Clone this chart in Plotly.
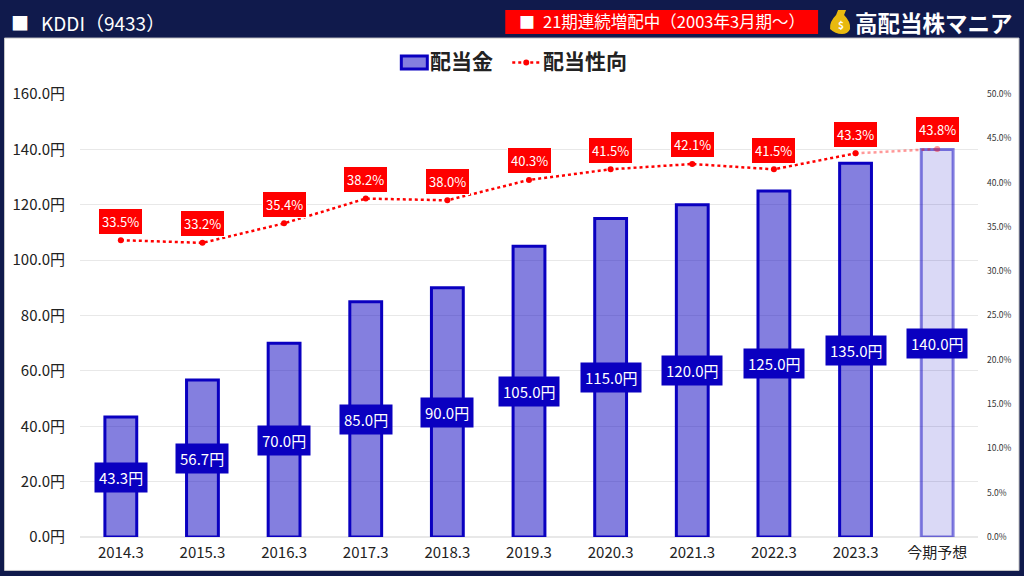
import plotly.graph_objects as go

periods = ["2014.3", "2015.3", "2016.3", "2017.3", "2018.3", "2019.3", "2020.3", "2021.3", "2022.3", "2023.3", "今期予想"]
dividend = [43.3, 56.7, 70.0, 85.0, 90.0, 105.0, 115.0, 120.0, 125.0, 135.0, 140.0]
payout = [33.5, 33.2, 35.4, 38.2, 38.0, 40.3, 41.5, 42.1, 41.5, 43.3, 43.8]

NAVY = "#101a4c"
BLUE = "#0a00c0"
RED = "#ff0000"
JP = "'Noto Sans CJK JP', sans-serif"

# plot area in pixels
L, R, T, B = 79.5, 978, 94, 537.5


def px(x):
    return (x - L) / (R - L)


def py(y):
    return (B - y) / (B - T)


fig = go.Figure()

bar_fill = ["rgba(10,0,192,0.5)"] * 10 + ["rgba(10,0,192,0.15)"]
bar_line = [BLUE] * 10 + ["rgba(10,0,192,0.5)"]
fig.add_bar(x=periods, y=dividend, name="配当金", width=0.39,
            marker=dict(color=bar_fill, line=dict(color=bar_line, width=3)))
fig.add_scatter(x=periods[:10], y=payout[:10], name="配当性向", yaxis="y2", mode="lines+markers",
                line=dict(color=RED, width=2.5, dash="dot"), marker=dict(color=RED, size=6))
fig.add_scatter(x=periods[9:], y=payout[9:], yaxis="y2", mode="lines+markers",
                opacity=0.4, line=dict(color=RED, width=2.5, dash="dot"), marker=dict(color=RED, size=6))

# numeric x here: period strings look like numbers to the annotation code
for i, v in enumerate(dividend):
    fig.add_annotation(x=i, y=v / 2, text=f"{v:.1f}円", showarrow=False,
                       bgcolor=BLUE, borderpad=4, font=dict(family=JP, size=15, color="white"))
for i, v in enumerate(payout):
    fig.add_annotation(x=i, y=v, yref="y2", yshift=19, text=f"{v:.1f}%", showarrow=False,
                       bgcolor=RED, bordercolor="white", borderwidth=1, borderpad=3,
                       font=dict(family=JP, size=13, color="white"))

# frame and header
fig.add_shape(type="rect", xref="paper", yref="paper", layer="below", x0=px(4), x1=px(1019), y0=py(571), y1=py(38),
              fillcolor="white", line=dict(color="#c8c8c8", width=1))
fig.add_shape(type="rect", xref="paper", yref="paper", layer="below", x0=px(505), x1=px(818), y0=py(34), y1=py(10),
              fillcolor=RED, line_width=0)
fig.add_shape(type="path", xref="paper", yref="paper",
              path=f"M {px(838)} {py(10)} L {px(846)} {py(10)} L {px(844)} {py(15)} "
                   f"Q {px(851)} {py(22)} {px(850)} {py(29)} Q {px(848)} {py(34)} {px(842)} {py(34)} "
                   f"Q {px(835)} {py(34)} {px(830)} {py(29)} Q {px(829)} {py(22)} {px(836)} {py(15)} Z",
              fillcolor="#e8b90f", line_width=0)

# legend, drawn by hand for the wide swatches
fig.add_shape(type="rect", xref="paper", yref="paper", x0=px(401), x1=px(427), y0=py(69), y1=py(56),
              fillcolor="rgba(10,0,192,0.5)", line=dict(color=BLUE, width=3))
fig.add_shape(type="line", xref="paper", yref="paper", x0=px(512), x1=px(540), y0=py(62.5), y1=py(62.5),
              line=dict(color=RED, width=2.5, dash="dot"))
fig.add_shape(type="circle", xref="paper", yref="paper", x0=px(523), x1=px(529), y0=py(65.5), y1=py(59.5),
              fillcolor=RED, line_width=0)


def text_at(x, y, text, size, color="white"):
    fig.add_annotation(xref="paper", yref="paper", x=px(x), y=py(y), text=text, showarrow=False,
                       xanchor="left", yanchor="middle", font=dict(family=JP, size=size, color=color))


text_at(428, 60, "<b>配当金</b>", 21, "#222222")
text_at(541, 60, "<b>配当性向</b>", 21, "#222222")
text_at(8, 22, "■", 18)
text_at(38, 22, "KDDI（9433）", 19)
text_at(517, 21, "■", 16)
text_at(541, 21, "21期連続増配中（2003年3月期～）", 16.5)
text_at(836, 24, "<b>$</b>", 10)
text_at(853, 22, "<b>高配当株マニア</b>", 22.5)

fig.update_layout(
    width=1024, height=576, autosize=False,
    margin=dict(l=L, r=1024 - R, t=T, b=576 - B, pad=0),
    paper_bgcolor=NAVY, plot_bgcolor="white",
    font=dict(family=JP, color="#222222"),
    showlegend=False,
    xaxis=dict(type="category", categoryorder="array", categoryarray=periods, range=[-0.5, 10.5],
               showgrid=False, showline=False, ticks="", ticklabelstandoff=5,
               tickfont=dict(size=15, color="#222222")),
    yaxis=dict(range=[0, 160], dtick=20, tickformat=".1f", ticksuffix="円", gridcolor="#e8e8e8", gridwidth=1,
               zeroline=True, zerolinecolor="#e8e8e8", showline=False, ticks="", ticklabelstandoff=14,
               tickfont=dict(size=15, color="#222222")),
    yaxis2=dict(range=[0, 50], dtick=5, overlaying="y", side="right", tickformat=".1f", ticksuffix="%", showgrid=False,
                zeroline=False, showline=False, ticks="", ticklabelstandoff=8,
                tickfont=dict(size=8.5, color="#333333")),
)

fig.write_html("out.html", config={"displayModeBar": False}, post_script="document.body.style.margin='0';")
